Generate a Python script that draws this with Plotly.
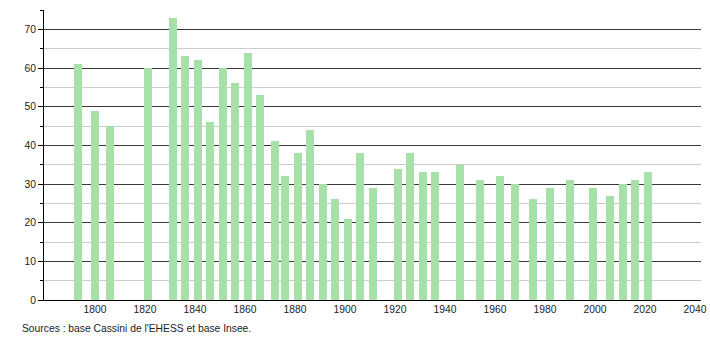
import plotly.graph_objects as go

years = [1793, 1800, 1806, 1821, 1831, 1836, 1841, 1846, 1851, 1856, 1861, 1866,
         1872, 1876, 1881, 1886, 1891, 1896, 1901, 1906, 1911, 1921, 1926, 1931,
         1936, 1946, 1954, 1962, 1968, 1975, 1982, 1990, 1999, 2006, 2011, 2016, 2021]
population = [61, 49, 45, 60, 73, 63, 62, 46, 60, 56, 64, 53,
              41, 32, 38, 44, 30, 26, 21, 38, 29, 34, 38, 33,
              33, 35, 31, 32, 30, 26, 29, 31, 29, 27, 30, 31, 33]
x_ticks = [1800, 1820, 1840, 1860, 1880, 1900, 1920, 1940, 1960, 1980, 2000, 2020, 2040]
y_ticks = [0, 10, 20, 30, 40, 50, 60, 70]
source_text = "Sources : base Cassini de l'EHESS et base Insee."

fig = go.Figure()
fig.add_trace(go.Bar(
    x=years, y=population, width=3.2,
    marker=dict(color="rgb(168,224,170)", line=dict(width=0)),
    hoverinfo="x+y",
))

font = dict(family="Liberation Sans, Arial, sans-serif", size=10.3, color="#222222")

fig.update_layout(
    width=710, height=340,
    margin=dict(l=44, r=9, t=10, b=40),
    plot_bgcolor="white", paper_bgcolor="white",
    showlegend=False,
    font=font,
    bargap=0,
    xaxis=dict(
        range=[1779.6, 2042.4],
        tickvals=x_ticks,
        ticktext=[str(v) for v in x_ticks],
        showgrid=False, zeroline=False,
        showline=True, linecolor="#000000", linewidth=1,
        ticks="", tickfont=font, automargin=False,
    ),
    yaxis=dict(
        range=[0, 75],
        tickvals=y_ticks,
        showgrid=True, gridcolor="#3a3a3a", gridwidth=1,
        zeroline=False,
        showline=True, linecolor="#000000", linewidth=1,
        ticks="outside", ticklen=5, tickcolor="#000000",
        tickfont=font, automargin=False,
        minor=dict(dtick=5, tick0=0, showgrid=True, gridcolor="#cccccc",
                   gridwidth=1, ticks="outside", ticklen=3, tickcolor="#000000"),
    ),
)

fig.add_annotation(
    text=source_text, xref="paper", yref="paper",
    x=-24/657, y=-21/290, xanchor="left", yanchor="top",
    showarrow=False, font=font,
)

fig.write_html("out.html")
